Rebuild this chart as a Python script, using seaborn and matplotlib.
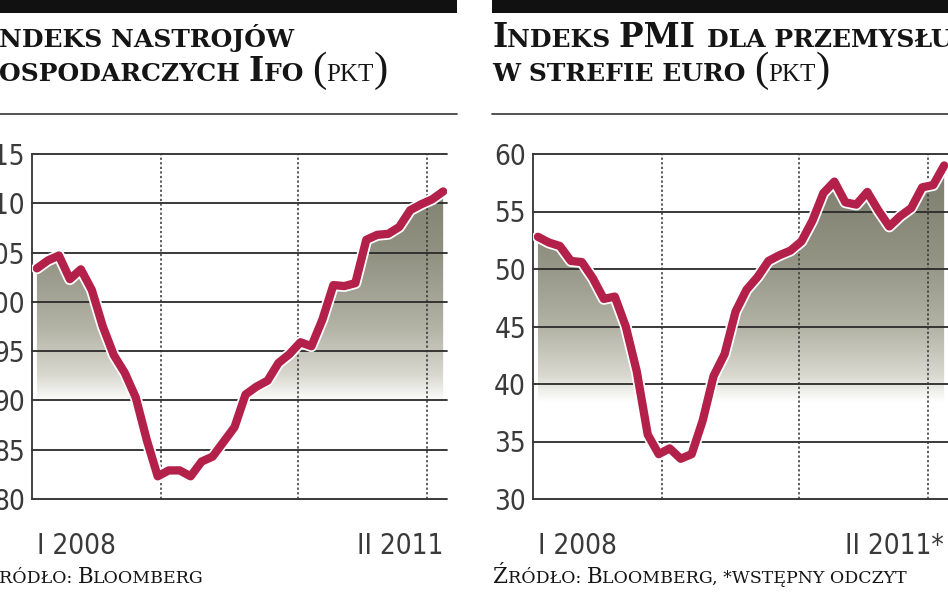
import os
import numpy as np
import pandas as pd
import matplotlib
matplotlib.use('Agg')
import matplotlib.pyplot as plt
import matplotlib.patheffects as pe
from matplotlib.colors import LinearSegmentedColormap
from matplotlib.lines import Line2D
from matplotlib import font_manager
from matplotlib.font_manager import FontProperties
import seaborn as sns

# miesiace od I 2008 do II 2011
months = list(range(38))
ifo = [103.4, 104.2, 104.7, 102.3, 103.3, 101.2, 97.5, 94.6, 92.8, 90.3, 86.0, 82.3,
       82.9, 82.9, 82.3, 83.8, 84.3, 85.8, 87.3, 90.6, 91.4, 92.0, 93.8, 94.7,
       95.9, 95.5, 98.2, 101.7, 101.6, 101.9, 106.3, 106.8, 106.9, 107.6, 109.3, 109.9,
       110.4, 111.2]
pmi = [52.8, 52.3, 52.0, 50.7, 50.6, 49.2, 47.4, 47.6, 45.0, 41.1, 35.6, 33.9,
       34.4, 33.5, 33.9, 36.8, 40.7, 42.6, 46.3, 48.2, 49.3, 50.7, 51.2, 51.6,
       52.4, 54.2, 56.6, 57.6, 55.8, 55.6, 56.7, 55.1, 53.7, 54.6, 55.3, 57.1,
       57.3, 59.0]
ifo_ticks = [80, 85, 90, 95, 100, 105, 110, 115]
pmi_ticks = [30, 35, 40, 45, 50, 55, 60]
year_marks = [11.3, 23.8, 35.5]   # granice lat (kropkowane linie)
ifo_xlabels = ['I 2008', 'II 2011']
pmi_xlabels = ['I 2008', 'II 2011*']

RED = '#b3214b'
INK = '#151515'

sns.set_style('white')
plt.rcParams['font.family'] = ['DejaVu Sans']

# waski krój do opisow osi, jesli jest
def wnum(w):
    if isinstance(w, (int, float)):
        return w
    return {'light': 300, 'normal': 400, 'regular': 400, 'book': 400, 'medium': 500}.get(str(w), 700)

cands = [f for f in font_manager.fontManager.ttflist
         if ('Narrow' in f.name or 'Condensed' in f.name or str(f.stretch) in ('condensed', 'semi-condensed'))
         and 'Mono' not in f.name and 'Serif' not in f.name and f.style == 'normal']
cands.sort(key=lambda f: abs(wnum(f.weight) - 350))
if cands:
    TICKFONT = FontProperties(fname=cands[0].fname)
else:
    TICKFONT = FontProperties(family='Roboto', weight='light')

fdir = os.path.join(matplotlib.get_data_path(), 'fonts', 'ttf')
SERB = os.path.join(fdir, 'DejaVuSerif-Bold.ttf')
SERR = os.path.join(fdir, 'DejaVuSerif.ttf')

shade = LinearSegmentedColormap.from_list('shade', [
    (0.0, '#ffffff'), (0.28, '#ffffff'), (0.36, '#d8d8cf'), (0.5, '#b2b2a5'),
    (0.7, '#939384'), (1.0, '#79796a')])

fig = plt.figure(figsize=(9.48, 5.93), dpi=100)
W, H = 948.0, 593.0


def panel(rect, vals, ticks, xlabels):
    ax = fig.add_axes(rect)
    df = pd.DataFrame({'m': months, 'v': vals})
    x0, x1 = -0.45, 37.35
    y0, y1 = ticks[0], ticks[-1]
    poly = ax.fill_between(df.m, df.v, y0, facecolor='none', edgecolor='none', zorder=1)
    grad = np.linspace(0, 1, 256).reshape(-1, 1)
    im = ax.imshow(grad, extent=[x0, x1, y0, y1], origin='lower', aspect='auto',
                   cmap=shade, zorder=1)
    im.set_clip_path(poly.get_paths()[0], transform=ax.transData)
    for t in ticks:
        ax.axhline(t, color='#2a2a2a', lw=1.3, zorder=2, clip_on=False)
    for m in year_marks:
        ax.axvline(m, color='#333333', lw=1.1, ls=(0, (1.5, 1.5)), zorder=2)
    sns.lineplot(data=df, x='m', y='v', ax=ax, color=RED, lw=6, zorder=4)
    ln = ax.lines[-1]
    ln.set_solid_capstyle('round')
    ln.set_solid_joinstyle('round')
    ln.set_path_effects([pe.Stroke(linewidth=8.5, foreground='white'), pe.Normal()])
    ax.set_xlim(x0, x1)
    ax.set_ylim(y0, y1)
    ax.set_xlabel('')
    ax.set_ylabel('')
    for s in ['top', 'right', 'bottom']:
        ax.spines[s].set_visible(False)
    ax.spines['left'].set_color('#333333')
    ax.spines['left'].set_linewidth(1.3)
    ax.set_yticks(ticks)
    ax.tick_params(axis='y', length=0, pad=5, labelcolor='#3a3a3a')
    ax.set_xticks([months[0], months[-1]], xlabels)
    ax.tick_params(axis='x', length=0, pad=24, labelcolor='#3a3a3a')
    for lb in ax.get_yticklabels() + ax.get_xticklabels():
        lb.set_fontproperties(TICKFONT)
        lb.set_fontsize(20)
    lb = ax.get_xticklabels()
    lb[0].set_ha('left')
    lb[1].set_ha('right')
    return ax


ay = (H - 499) / H
ah = (499 - 154) / H
panel([32 / W, ay, 415 / W, ah], ifo, ifo_ticks, ifo_xlabels)
panel([533 / W, ay, 415 / W, ah], pmi, pmi_ticks, pmi_xlabels)

# czarne belki i linie pod tytulami
for a, b in [(0, 457), (492, 948)]:
    fig.add_artist(plt.Rectangle((a / W, 1 - 13 / H), (b - a) / W, 13 / H,
                                 transform=fig.transFigure, color='#111111', lw=0))
    fig.add_artist(Line2D([a / W, b / W], [1 - 114 / H] * 2, transform=fig.transFigure,
                          color='#444444', lw=1.3))

renderer = fig.canvas.get_renderer()


def props(size, f):
    if f == 'LSER':
        return FontProperties(family=['Liberation Serif', 'DejaVu Serif'], size=size)
    return FontProperties(fname=f, size=size)


def width(s, size, f):
    t = fig.text(0, 0, '|' + s + '|', fontproperties=props(size, f))
    u = fig.text(0, 0, '||', fontproperties=props(size, f))
    w = t.get_window_extent(renderer).width - u.get_window_extent(renderer).width
    t.remove()
    u.remove()
    return w


def rich(xpx, ypx, parts, cut=False):
    # parts: (tekst, rozmiar, plik kroju) - kapitaliki skladane z kawalkow
    # cut: pierwsza litera wypada poza lewa krawedz (kadr obciety jak w oryginale)
    if cut:
        xpx -= width(*parts[0]) + 1
    for s, size, f in parts:
        fig.text(xpx / W, 1 - ypx / H, s, fontproperties=props(size, f),
                 va='baseline', ha='left', color=INK)
        xpx += width(s, size, f)


BIG, SM = 23.5, 18
PAR, PK = 31, 18

rich(0, 47, [('I', BIG, SERB), ('NDEKS NASTROJÓW', SM, SERB)], cut=True)
rich(0, 81, [('G', BIG, SERB), ('OSPODARCZYCH ', SM, SERB),
             ('I', BIG, SERB), ('FO ', SM, SERB),
             ('(', PAR, 'LSER'), ('PKT', PK, 'LSER'), (')', PAR, 'LSER')], cut=True)
rich(492, 47, [('I', BIG, SERB), ('NDEKS ', SM, SERB), ('PMI ', BIG, SERB),
               ('DLA PRZEMYSŁU', SM, SERB)])
rich(492, 81, [('W STREFIE EURO ', SM, SERB),
               ('(', PAR, 'LSER'), ('PKT', PK, 'LSER'), (')', PAR, 'LSER')])

SB, SS = 15.5, 12.5
rich(0, 583, [('Ź', SB, SERR), ('RÓDŁO: ', SS, SERR),
              ('B', SB, SERR), ('LOOMBERG', SS, SERR)], cut=True)
rich(493, 583, [('Ź', SB, SERR), ('RÓDŁO: ', SS, SERR),
                ('B', SB, SERR), ('LOOMBERG, *WSTĘPNY ODCZYT', SS, SERR)])

fig.savefig('out.png', dpi=100)
